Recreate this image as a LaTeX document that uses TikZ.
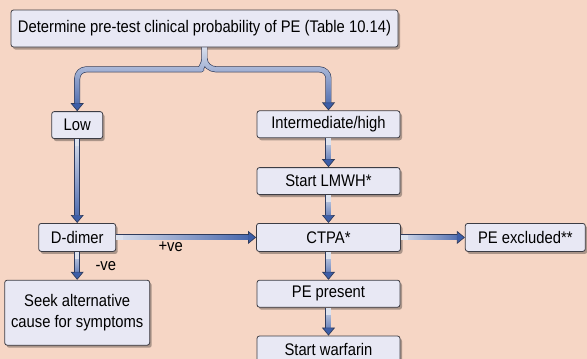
\documentclass[tikz,border=0pt]{standalone}
\usepackage{fontspec}
\setmainfont{Liberation Sans}[FakeStretch=0.88]
\usetikzlibrary{positioning,arrows.meta,calc,shadows,fadings}
\definecolor{pebg}{HTML}{F6D6C5}
\definecolor{peboxfill}{HTML}{E8E8F4}
\definecolor{peboxline}{HTML}{3C3C44}
\definecolor{petubeedge}{HTML}{2F3B5C}
\definecolor{petubefill}{HTML}{DDE2EE}
\definecolor{petubehead}{HTML}{3D5EA8}
\tikzset{
    stepbox/.style={draw=peboxline,fill=peboxfill,rounded corners=2.5pt,line width=0.8pt,
        minimum height=27pt,inner sep=3pt,
        drop shadow={shadow xshift=2pt,shadow yshift=-2.5pt,fill=black,opacity=0.3}},
    tube/.style={->,>={Triangle[length=8pt,width=13pt,fill=petubehead]},draw=petubeedge,
        line width=0.7pt,double=petubefill,double distance=4.6pt},
    tubeshade/.style={postaction={draw=petubehead,-,line width=4.6pt,
        shorten >=7pt,shorten <=7pt,path fading=#1}},
    lbl/.style={inner sep=1pt},
}
\begin{document}
\begin{tikzpicture}[font=\fontsize{16.8}{21.5}\selectfont,node distance=28pt]
    \fill[pebg] (-204.5pt,28.5pt) rectangle (382.5pt,-330.5pt);
    \useasboundingbox (-204.5pt,28.5pt) rectangle (382.5pt,-330.5pt);

    \node[stepbox,minimum width=387pt,minimum height=37pt] (top) {Determine pre-test clinical probability of PE (Table 10.14)};
    \node[stepbox,minimum width=143pt,below=63pt of top,xshift=124pt] (inter) {Intermediate/high};
    \node[stepbox,minimum width=143pt,below=29pt of inter] (lmwh) {Start LMWH*};
    \node[stepbox,minimum width=144pt,minimum height=28pt,below=of lmwh] (ctpa) {CTPA*};
    \node[stepbox,minimum width=143pt,below=of ctpa] (present) {PE present};
    \node[stepbox,minimum width=143pt,below=of present] (warfarin) {Start warfarin};
    \node[stepbox,minimum width=120pt,minimum height=28pt,right=64pt of ctpa] (excluded) {PE excluded**};
    \node[stepbox,minimum width=77pt,minimum height=28pt,left=140pt of ctpa] (ddimer) {D-dimer};
    \node[stepbox,minimum width=51pt,above=84pt of ddimer] (low) {Low};
    \node[stepbox,minimum width=145pt,minimum height=65pt,align=center,below=of ddimer] (seek) {Seek alternative\\cause for symptoms};

    % split below the first box: stem, then both branches in one path
    \coordinate (fork) at ($(top.south)+(0,-11pt)$);
    \draw[tube,<->,line join=round,tubeshade=north]
        (top.south) -- (fork)
        (low.north) [rounded corners=9pt] |- ($(fork)+(-12pt,-11pt)$) [sharp corners] to[out=0,in=-90] (fork)
        to[out=-90,in=180] ($(fork)+(12pt,-11pt)$) [rounded corners=9pt] -| (inter.north);

    \draw[tube,tubeshade=north] (low) -- (ddimer);
    \draw[tube,tubeshade=north] (ddimer) -- node[lbl,right=17pt] {-ve} (seek);
    \draw[tube,tubeshade=west] (ddimer) -- node[lbl,below=3pt,pos=0.39] {+ve} (ctpa);
    \draw[tube,tubeshade=north] (inter) -- (lmwh);
    \draw[tube,tubeshade=north] (lmwh) -- (ctpa);
    \draw[tube,tubeshade=west] (ctpa) -- (excluded);
    \draw[tube,tubeshade=north] (ctpa) -- (present);
    \draw[tube,tubeshade=north] (present) -- (warfarin);
\end{tikzpicture}
\end{document}
